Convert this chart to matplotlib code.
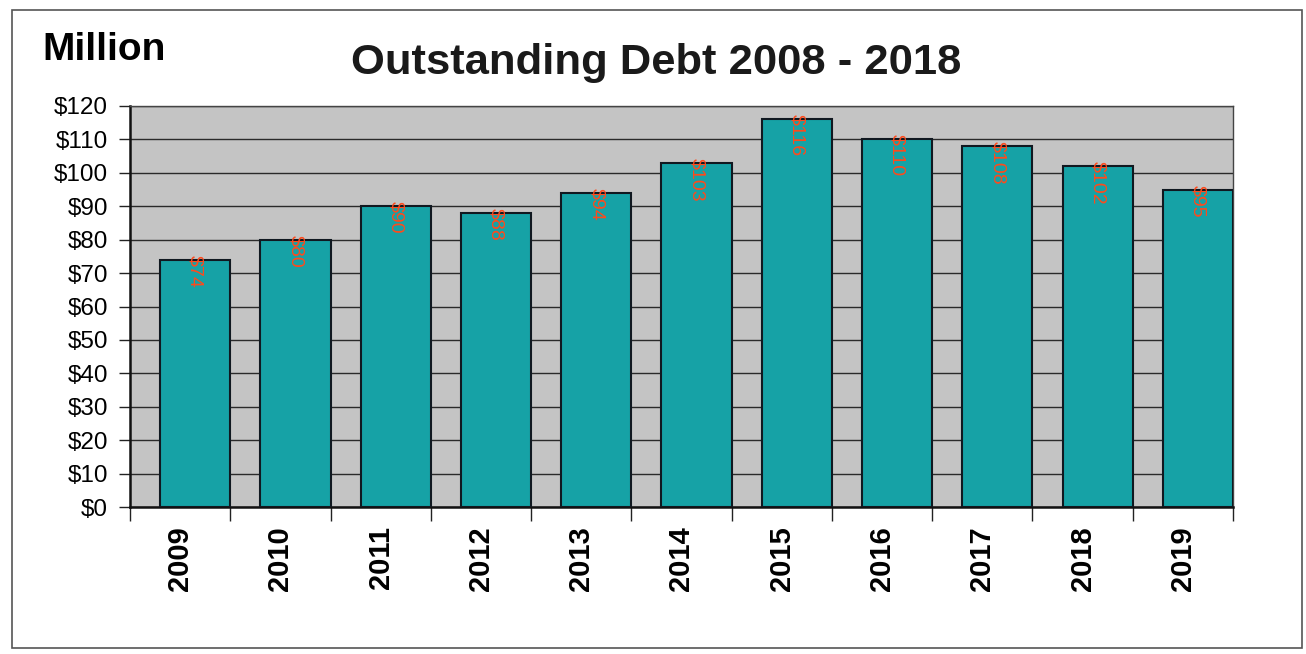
import matplotlib
matplotlib.use("Agg")
import matplotlib.pyplot as plt
from matplotlib.patches import Rectangle
import numpy as np

years = ["2009", "2010", "2011", "2012", "2013", "2014", "2015", "2016", "2017", "2018", "2019"]
debt = [74, 80, 90, 88, 94, 103, 116, 110, 108, 102, 95]
value_labels = ["$74", "$80", "$90", "$88", "$94", "$103", "$116", "$110", "$108", "$102", "$95"]
y_ticks = [0, 10, 20, 30, 40, 50, 60, 70, 80, 90, 100, 110, 120]
y_ticklabels = ["$" + str(v) for v in y_ticks]

plt.rcParams['font.family'] = ['Liberation Sans', 'DejaVu Sans']

W, H = 1306, 654
fig = plt.figure(figsize=(W / 100, H / 100), dpi=100)
fig.patch.set_facecolor('white')

# outer frame
fig.add_artist(Rectangle((12 / W, 1 - 648 / H), (1302 - 12) / W, (648 - 10) / H,
                         transform=fig.transFigure, fill=False, edgecolor='#555555', linewidth=1.2))

ax = fig.add_axes([130 / W, 1 - 507 / H, (1233 - 130) / W, (507 - 106) / H])
ax.set_facecolor('#c4c4c4')

x = np.arange(len(years))
bar_w = 0.7
ax.bar(x + 0.15, debt, width=bar_w, color='#16a2a6', edgecolor='#101820', linewidth=1.5, zorder=3)

for xi, v, lab in zip(x, debt, value_labels):
    ax.text(xi + 0.15, v + 1.5, lab, rotation=270, ha='center', va='top',
            color='#ff4a1c', fontsize=14, zorder=4)

ax.set_xlim(-0.5, len(years) - 0.5)
ax.set_ylim(0, 120)
ax.set_yticks(y_ticks)
ax.set_yticklabels(y_ticklabels, fontsize=17.5)
ax.yaxis.grid(True, color='#2a2a2a', linewidth=1.0, zorder=1)
ax.set_axisbelow(True)

ax.set_xticks(x)
ax.set_xticklabels(years, rotation=90, fontsize=21, fontweight='bold')
ax.set_xticks(np.arange(len(years) + 1) - 0.5, minor=True)
ax.tick_params(axis='x', which='major', length=0, pad=14)
ax.tick_params(axis='x', which='minor', length=10, width=1.0, color='#222222')
ax.tick_params(axis='y', length=8, width=1.0, color='#222222', pad=8)

for side in ['top', 'right']:
    ax.spines[side].set_color('#444444')
    ax.spines[side].set_linewidth(1.0)
for side in ['left', 'bottom']:
    ax.spines[side].set_color('#111111')
    ax.spines[side].set_linewidth(1.8)

fig.text(42 / W, 1 - 50 / H, "Million", fontsize=28, fontweight='bold', ha='left', va='center')
fig.text(656 / W, 1 - 63 / H, "Outstanding Debt 2008 - 2018", fontsize=31.3, fontweight='bold',
         ha='center', va='center', color='#1a1a1a')

fig.savefig("out.png", dpi=100, facecolor='white')
